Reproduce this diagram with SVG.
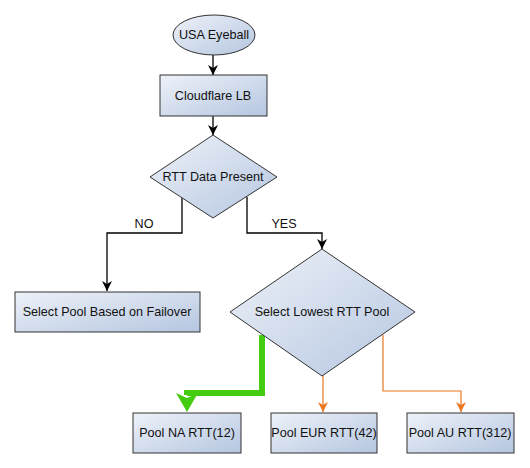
<svg xmlns="http://www.w3.org/2000/svg" width="530" height="468" viewBox="0 0 530 468">
<defs>
<linearGradient id="g" x1="0" y1="0" x2="1" y2="1">
<stop offset="0" stop-color="#eef2f9"/>
<stop offset="1" stop-color="#b5c6e0"/>
</linearGradient>
<marker id="ab" viewBox="0 0 10 10" refX="10" refY="5" markerWidth="10" markerHeight="10" markerUnits="userSpaceOnUse" orient="auto">
<path d="M0,0 L10,5 L0,10 L3,5 Z" fill="#000"/>
</marker>
<marker id="ao" viewBox="0 0 10 10" refX="10" refY="5" markerWidth="10" markerHeight="10" markerUnits="userSpaceOnUse" orient="auto">
<path d="M0,0 L10,5 L0,10 L3,5 Z" fill="#e87722"/>
</marker>
</defs>
<style>
.n{fill:url(#g);stroke:#333;stroke-width:1}
.t{font-family:"Liberation Sans",Arial,sans-serif;font-size:12.6px;fill:#111;text-anchor:middle}
.b{fill:none;stroke:#000;stroke-width:1.3}
.o{fill:none;stroke:#e87722;stroke-width:1.2}
.gr{fill:none;stroke:#44cc11;stroke-width:6}
</style>
<rect width="530" height="468" fill="#fff"/>
<g id="connectors">
<path class="b" d="M213,55 V75" marker-end="url(#ab)"/>
<path class="b" d="M213,116 V135" marker-end="url(#ab)"/>
<path class="b" d="M182,197 V233 H107 V291" marker-end="url(#ab)"/>
<path class="b" d="M247,197 V233 H322 V249" marker-end="url(#ab)"/>
<path class="gr" d="M262,335 V393 H187 V395"/>
<path d="M176,393 L187,412 L198,393 L187,398 Z" fill="#44cc11"/>
<path class="o" d="M323,375 V412" marker-end="url(#ao)"/>
<path class="o" d="M383,335 V391 H461 V412" marker-end="url(#ao)"/>
<text class="t" x="144" y="228">NO</text>
<text class="t" x="284" y="228">YES</text>
</g>
<g id="usa">
<ellipse class="n" cx="214" cy="35" rx="41" ry="20"/>
<text class="t" x="214" y="39">USA Eyeball</text>
</g>
<g id="lb">
<rect class="n" x="160" y="75" width="107" height="41"/>
<text class="t" x="213" y="100">Cloudflare LB</text>
</g>
<g id="rtt">
<path class="n" d="M213,135 L277,177 L213,218 L150,177 Z"/>
<text class="t" x="213" y="181">RTT Data Present</text>
</g>
<g id="failover">
<rect class="n" x="15" y="292" width="185" height="40"/>
<text class="t" x="107" y="316">Select Pool Based on Failover</text>
</g>
<g id="lowest">
<path class="n" d="M322,249 L415,312 L322,376 L230,312 Z"/>
<text class="t" x="322" y="316">Select Lowest RTT Pool</text>
</g>
<g id="na">
<rect class="n" x="133" y="413" width="108" height="40"/>
<text class="t" x="187" y="437">Pool NA RTT(12)</text>
</g>
<g id="eur">
<rect class="n" x="271" y="413" width="106" height="40"/>
<text class="t" x="324" y="437">Pool EUR RTT(42)</text>
</g>
<g id="au">
<rect class="n" x="407" y="413" width="107" height="40"/>
<text class="t" x="460" y="437">Pool AU RTT(312)</text>
</g>
</svg>
